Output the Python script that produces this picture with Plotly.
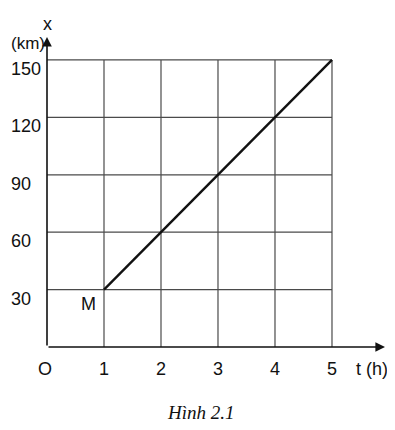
import plotly.graph_objects as go

# Data
t_ticks = [1, 2, 3, 4, 5]
x_ticks = [30, 60, 90, 120, 150]
t_line = [1, 5]
x_line = [30, 150]
y_tick_labels = ["30", "60", "90", "120", "150"]
t_tick_labels = ["1", "2", "3", "4", "5"]

T_MAX = 5.93
X_MAX = 162

fig = go.Figure()

grid_color = "#4a4a4a"
# vertical grid lines
for t in t_ticks:
    fig.add_trace(go.Scatter(x=[t, t], y=[0, x_ticks[-1]], mode="lines",
                             line=dict(color=grid_color, width=1.2),
                             hoverinfo="skip", showlegend=False))
# horizontal grid lines
for v in x_ticks:
    fig.add_trace(go.Scatter(x=[0, t_ticks[-1]], y=[v, v], mode="lines",
                             line=dict(color=grid_color, width=1.2),
                             hoverinfo="skip", showlegend=False))

# main line
fig.add_trace(go.Scatter(x=t_line, y=x_line, mode="lines",
                         line=dict(color="#111111", width=2.4),
                         showlegend=False))

font = dict(family="Liberation Sans, Arial, sans-serif", size=18, color="#111111")
font_km = dict(family="Liberation Sans, Arial, sans-serif", size=17, color="#111111")

annotations = []
# axes arrows
annotations.append(dict(x=T_MAX, y=0, ax=0, ay=0, xref="x", yref="y", axref="x", ayref="y",
                        showarrow=True, arrowhead=2, arrowsize=1.2, arrowwidth=1.6,
                        arrowcolor="#111111", text=""))
annotations.append(dict(x=0, y=X_MAX, ax=0, ay=0, xref="x", yref="y", axref="x", ayref="y",
                        showarrow=True, arrowhead=2, arrowsize=1.2, arrowwidth=1.6,
                        arrowcolor="#111111", text=""))
# y tick labels
for v, lab in zip(x_ticks, y_tick_labels):
    annotations.append(dict(x=0, y=v, xref="x", yref="y", text=lab, showarrow=False,
                            xanchor="left", yanchor="middle", xshift=-38, yshift=-9, font=font))
# t tick labels
for t, lab in zip(t_ticks, t_tick_labels):
    annotations.append(dict(x=t, y=0, xref="x", yref="y", text=lab, showarrow=False,
                            xanchor="center", yanchor="middle", yshift=-22, font=font))
annotations.append(dict(x=0, y=0, xref="x", yref="y", text="O", showarrow=False,
                        xanchor="center", yanchor="middle", yshift=-22, xshift=-2, font=font))
annotations.append(dict(x=T_MAX, y=0, xref="x", yref="y", text="t (h)", showarrow=False,
                        xanchor="right", yanchor="middle", yshift=-22, xshift=5, font=font))
annotations.append(dict(x=0, y=X_MAX, xref="x", yref="y", text="x", showarrow=False,
                        xanchor="center", yanchor="middle", yshift=13, font=font))
annotations.append(dict(x=0, y=X_MAX, xref="x", yref="y", text="(km)", showarrow=False,
                        xanchor="right", yanchor="middle", yshift=-6, xshift=0, font=font_km))
annotations.append(dict(x=t_line[0], y=x_line[0], xref="x", yref="y", text="M", showarrow=False,
                        xanchor="right", yanchor="middle", xshift=-6, yshift=-14, font=font))
annotations.append(dict(x=0.5, y=0, xref="paper", yref="paper", text="<i>Hình 2.1</i>",
                        showarrow=False, xanchor="center", yanchor="middle", yshift=-65,
                        xshift=-15,
                        font=dict(family="Liberation Serif, Times New Roman, serif", size=19,
                                  color="#111111")))

fig.update_layout(
    width=387, height=422,
    margin=dict(l=39, r=10, t=29, b=83),
    paper_bgcolor="white", plot_bgcolor="white",
    xaxis=dict(range=[0, T_MAX], showgrid=False, zeroline=False, showticklabels=False,
               ticks="", showline=False, fixedrange=True),
    yaxis=dict(range=[0, X_MAX], showgrid=False, zeroline=False, showticklabels=False,
               ticks="", showline=False, fixedrange=True),
    annotations=annotations,
    showlegend=False,
)

fig.write_html("out.html")
